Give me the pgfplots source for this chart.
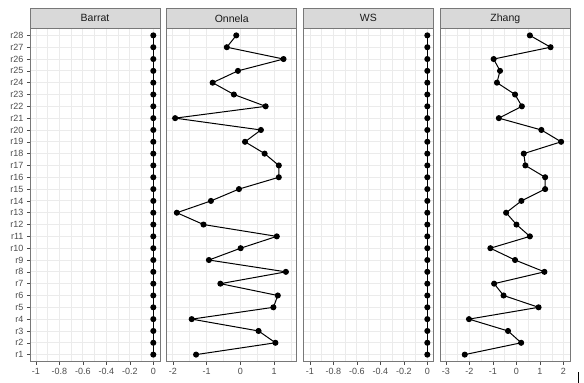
\documentclass[border=0pt]{standalone}
\usepackage{pgfplots}
\usepackage{pgfplotstable}
\usepackage{fontspec}
\setmainfont{Liberation Sans}
\pgfplotsset{compat=1.18}
\definecolor{gtxt}{RGB}{77,77,77}
\definecolor{ggrid}{RGB}{235,235,235}
\definecolor{gstrip}{RGB}{217,217,217}
\definecolor{gborder}{RGB}{120,120,120}

\pgfplotstableread{
r barrat onnela ws zhang
1 0 -1.31 0 -2.20
2 0 1.04 0 0.20
3 0 0.54 0 -0.36
4 0 -1.44 0 -2.02
5 0 0.98 0 0.94
6 0 1.11 0 -0.55
7 0 -0.59 0 -0.95
8 0 1.35 0 1.19
9 0 -0.93 0 -0.06
10 0 0.01 0 -1.11
11 0 1.08 0 0.57
12 0 -1.09 0 0.00
13 0 -1.88 0 -0.44
14 0 -0.87 0 0.21
15 0 -0.04 0 1.22
16 0 1.14 0 1.22
17 0 1.14 0 0.38
18 0 0.72 0 0.31
19 0 0.14 0 1.90
20 0 0.61 0 1.06
21 0 -1.93 0 -0.75
22 0 0.75 0 0.23
23 0 -0.19 0 -0.06
24 0 -0.82 0 -0.83
25 0 -0.07 0 -0.70
26 0 1.28 0 -0.97
27 0 -0.40 0 1.45
28 0 -0.12 0 0.57
}\data

\pgfplotsset{facet/.style={
  anchor=south west, scale only axis, width=130pt, height=333.4pt,
  ymin=0.4, ymax=28.6, ytick={1,...,28},
  xmajorgrids, ymajorgrids, xminorgrids,
  major grid style={color=ggrid, line width=0.9pt},
  minor grid style={color=ggrid, line width=0.45pt},
  axis line style={color=gborder, line width=0.6pt},
  tick align=outside, xtick pos=bottom, ytick pos=left,
  tick style={color=gray!60!black, line width=0.5pt},
  major tick length=3pt, minor tick length=0pt,
  ticklabel style={font=\fontsize{9}{10}\selectfont, text=gtxt},
  yticklabels={},
},
dataline/.style={black, line width=1pt, mark=*, mark size=2.5pt, mark options={solid}}
}

\begin{document}
\begin{tikzpicture}
\useasboundingbox (0pt,0pt) rectangle (584pt,383pt);
\fill[white] (0pt,0pt) rectangle (584pt,383pt);

% Barrat
\begin{axis}[facet, at={(30pt,21.3pt)},
  xmin=-1.051, xmax=0.057,
  xtick={-1,-0.8,-0.6,-0.4,-0.2,0},
  xticklabels={-1,-0.8,-0.6,-0.4,-0.2,0},
  minor xtick={-0.9,-0.7,-0.5,-0.3,-0.1},
  yticklabels={r1,r2,r3,r4,r5,r6,r7,r8,r9,r10,r11,r12,r13,r14,r15,r16,r17,r18,r19,r20,r21,r22,r23,r24,r25,r26,r27,r28},
]
\addplot[dataline] table[x=barrat, y=r] {\data};
\end{axis}

% Onnela
\begin{axis}[facet, at={(166.7pt,21.3pt)},
  xmin=-2.18, xmax=1.67,
  xtick={-2,-1,0,1},
  xticklabels={-2,-1,0,1},
  minor xtick={-1.5,-0.5,0.5,1.5},
  y tick style={draw=none},
]
\addplot[dataline] table[x=onnela, y=r] {\data};
\end{axis}

% WS
\begin{axis}[facet, at={(303.3pt,21.3pt)},
  xmin=-1.057, xmax=0.051,
  xtick={-1,-0.8,-0.6,-0.4,-0.2,0},
  xticklabels={-1,-0.8,-0.6,-0.4,-0.2,0},
  minor xtick={-0.9,-0.7,-0.5,-0.3,-0.1},
  y tick style={draw=none},
]
\addplot[dataline] table[x=ws, y=r] {\data};
\end{axis}

% Zhang
\begin{axis}[facet, at={(440.3pt,21.3pt)},
  xmin=-3.24, xmax=2.29,
  xtick={-3,-2,-1,0,1,2},
  xticklabels={-3,-2,-1,0,1,2},
  minor xtick={-2.5,-1.5,-0.5,0.5,1.5},
  y tick style={draw=none},
]
\addplot[dataline] table[x=zhang, y=r] {\data};
\end{axis}

% strips
\foreach \xa/\lab in {30/Barrat,166.7/Onnela,303.3/WS,440.3/Zhang}{
  \draw[fill=gstrip, draw=gborder, line width=0.6pt] (\xa pt,354.7pt) rectangle ([xshift=130pt]\xa pt,374.7pt);
  \node[font=\fontsize{10.5}{12}\selectfont, text={rgb,255:red,26;green,26;blue,26}] at ([xshift=65pt]\xa pt,364.7pt) {\lab};
}
\draw[black, line width=1pt] (578pt,0pt) -- (578pt,11pt);
\end{tikzpicture}
\end{document}
